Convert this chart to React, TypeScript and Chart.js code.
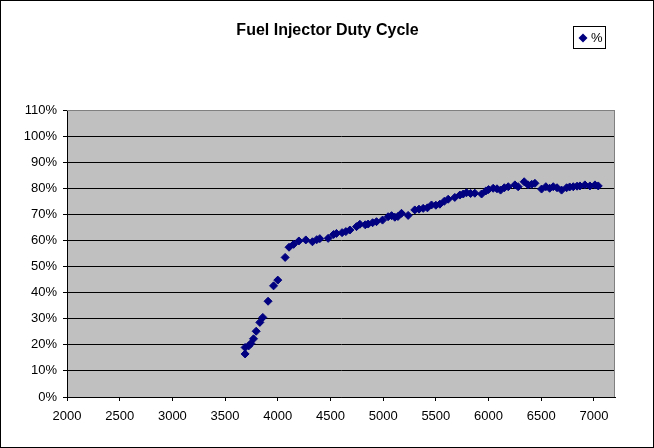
import React, { useEffect, useRef } from "react";
import { Chart, registerables } from "chart.js";

Chart.register(...registerables);

const chartTitle = "Fuel Injector Duty Cycle";
const seriesName = "%";

const rpm: number[] = [
  3690, 3690, 3725, 3745, 3770, 3795, 3830, 3858, 3908, 3960, 4000, 4070,
  4107, 4150, 4200, 4266, 4329, 4370, 4399, 4478, 4530, 4557, 4610, 4646,
  4684, 4747, 4779, 4830, 4858, 4900, 4937, 4994, 5047, 5080, 5111, 5140,
  5174, 5237, 5300, 5340, 5380, 5420, 5459, 5500, 5538, 5580, 5617, 5680,
  5728, 5760, 5791, 5830, 5870, 5934, 5975, 6000, 6044, 6080, 6114, 6150,
  6187, 6250, 6281, 6338, 6376, 6410, 6440, 6503, 6544, 6580, 6614, 6650,
  6693, 6741, 6770, 6804, 6840, 6867, 6914, 6962, 7010, 7041,
];

const duty: number[] = [
  16.5, 19.0, 19.6, 20.5, 22.3, 25.2, 28.6, 30.5, 36.7, 42.6, 44.8, 53.5,
  57.4, 58.5, 59.8, 60.2, 59.5, 60.3, 60.7, 60.8, 62.3, 62.7, 63.0, 63.4,
  64.0, 65.3, 66.2, 66.0, 66.3, 66.8, 67.2, 67.8, 69.1, 69.5, 68.9, 69.2,
  70.4, 69.6, 71.7, 72.0, 72.3, 72.5, 73.6, 73.5, 73.9, 75.0, 75.8, 76.5,
  77.4, 77.8, 78.3, 78.0, 78.1, 77.8, 79.0, 79.5, 80.0, 79.8, 79.3, 80.2,
  80.6, 81.3, 80.6, 82.5, 81.3, 81.5, 81.9, 79.7, 80.6, 80.0, 80.6, 80.2,
  79.3, 80.2, 80.5, 80.6, 80.8, 80.9, 81.3, 80.9, 81.3, 80.9,
];

const xTickValues: number[] = [2000, 2500, 3000, 3500, 4000, 4500, 5000, 5500, 6000, 6500, 7000];
const xMin = 2000;
const xMax = 7200;
const yMin = 0;
const yMax = 110;
const yStep = 10;

const FONT = "'Liberation Sans', Arial, sans-serif";
const NAVY = "#000080";

const decorPlugin = {
  id: "decor",
  beforeDraw(chart: any) {
    const { ctx, chartArea, width, height } = chart;
    ctx.save();
    ctx.fillStyle = "#ffffff";
    ctx.fillRect(0, 0, width, height);
    ctx.fillStyle = "#C0C0C0";
    ctx.fillRect(chartArea.left, chartArea.top, chartArea.right - chartArea.left, chartArea.bottom - chartArea.top);
    ctx.restore();
  },
  beforeDatasetsDraw(chart: any) {
    const { ctx, chartArea } = chart;
    ctx.save();
    ctx.strokeStyle = "#808080";
    ctx.lineWidth = 1;
    ctx.beginPath();
    ctx.moveTo(chartArea.left, chartArea.top + 0.5);
    ctx.lineTo(chartArea.right - 0.5, chartArea.top + 0.5);
    ctx.lineTo(chartArea.right - 0.5, chartArea.bottom);
    ctx.stroke();
    ctx.restore();
  },
  afterDraw(chart: any) {
    const { ctx, width, height } = chart;
    ctx.save();
    ctx.strokeStyle = "#000000";
    ctx.lineWidth = 1;
    ctx.strokeRect(0.5, 0.5, width - 1, height - 1);
    ctx.fillStyle = "#000000";
    ctx.font = `bold 16px ${FONT}`;
    ctx.textAlign = "center";
    ctx.textBaseline = "middle";
    ctx.fillText(chartTitle, 327.5, 31);
    ctx.strokeRect(573.5, 26.5, 32, 22);
    ctx.fillStyle = NAVY;
    ctx.beginPath();
    ctx.moveTo(583, 33.5);
    ctx.lineTo(587.5, 38);
    ctx.lineTo(583, 42.5);
    ctx.lineTo(578.5, 38);
    ctx.closePath();
    ctx.fill();
    ctx.fillStyle = "#000000";
    ctx.font = `13px ${FONT}`;
    ctx.textAlign = "left";
    ctx.fillText(seriesName, 591, 38.5);
    ctx.restore();
  },
};

export default function App() {
  const ref = useRef<HTMLCanvasElement | null>(null);

  useEffect(() => {
    document.body.style.margin = "0";
    if (!ref.current) return;
    const points = rpm.map((x, i) => ({ x, y: duty[i] }));
    const chart = new Chart(ref.current, {
      type: "scatter",
      data: {
        datasets: [
          {
            label: seriesName,
            data: points,
            pointStyle: "rectRot",
            pointRadius: 4,
            pointBorderWidth: 1,
            backgroundColor: NAVY,
            borderColor: NAVY,
            showLine: false,
          },
        ],
      },
      options: {
        animation: false,
        responsive: false,
        maintainAspectRatio: false,
        devicePixelRatio: 1,
        layout: { padding: { top: 110, right: 39, left: 0, bottom: 0 } },
        plugins: {
          legend: { display: false },
          title: { display: false },
          tooltip: { enabled: false },
        },
        scales: {
          x: {
            type: "linear",
            min: xMin,
            max: xMax,
            afterFit(scale: any) {
              scale.height = 51;
            },
            afterBuildTicks(scale: any) {
              scale.ticks = xTickValues.map((value) => ({ value }));
            },
            ticks: {
              color: "#000000",
              font: { family: FONT, size: 13 },
              padding: 8,
              maxRotation: 0,
              autoSkip: false,
              callback: (v: any) => String(v),
            },
            grid: {
              drawOnChartArea: false,
              drawTicks: true,
              tickLength: 4,
              tickColor: "#000000",
            },
            border: { display: true, color: "#000000", width: 1 },
          },
          y: {
            type: "linear",
            min: yMin,
            max: yMax,
            afterFit(scale: any) {
              scale.width = 67;
            },
            ticks: {
              stepSize: yStep,
              color: "#000000",
              font: { family: FONT, size: 13 },
              padding: 6,
              callback: (v: any) => `${v}%`,
            },
            grid: {
              color: (c: any) => (c.tick && c.tick.value === yMax ? "#808080" : "#000000"),
              lineWidth: 1,
              drawTicks: true,
              tickLength: 4,
              tickColor: "#000000",
            },
            border: { display: true, color: "#000000", width: 1 },
          },
        },
      },
      plugins: [decorPlugin],
    });
    return () => chart.destroy();
  }, []);

  return (
    <div style={{ position: "fixed", left: 0, top: 0, width: 654, height: 448 }}>
      <canvas ref={ref} width={654} height={448} style={{ display: "block", width: 654, height: 448 }} />
    </div>
  );
}
